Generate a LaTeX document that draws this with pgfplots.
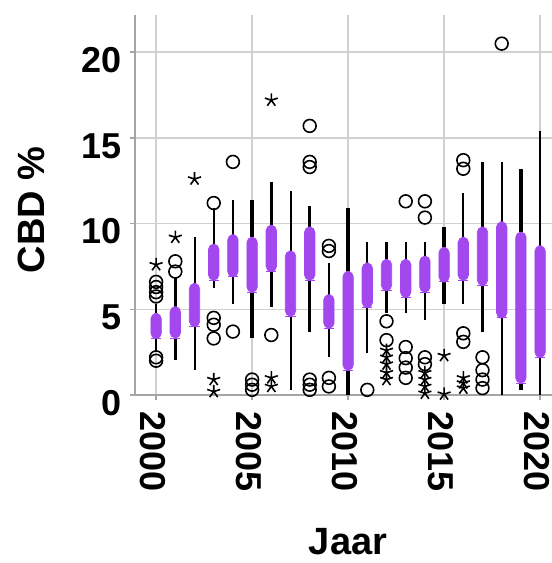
\documentclass[border=0pt]{standalone}
\usepackage{fontspec}
\setmainfont{Liberation Sans}
\usepackage{pgfplots}
\pgfplotsset{compat=1.18}
\usepgfplotslibrary{statistics}
\definecolor{cbdpurple}{RGB}{163,72,238}
\definecolor{gridgray}{RGB}{208,208,208}
\definecolor{axgray}{RGB}{165,165,165}
% position (year-2000), lower whisker, q1, q3, upper whisker, extra options
\newcommand\bx[6]{\addplot[boxplot prepared={draw position=#1, lower whisker=#2, lower quartile=#3, median=#3, upper quartile=#4, upper whisker=#5}, #6] coordinates {};}
\begin{document}
\begin{tikzpicture}
\begin{axis}[
 width=208.5pt, height=190pt, scale only axis,
 xmin=-1.1, xmax=20.62, ymin=0, ymax=22.17,
 axis x line*=bottom, axis y line*=left,
 axis line style={-, axgray, line width=1.3pt},
 grid=major, major grid style={gridgray, line width=0.8pt},
 xtick={0,5,10,15,20}, xticklabels={2000,2005,2010,2015,2020},
 ytick={0,5,10,15,20}, yticklabels={0,5,10,15,20},
 tick align=outside, major tick length=2.5pt, tick style={axgray, line width=0.8pt},
 ticklabel style={font=\fontsize{18}{18}\selectfont\bfseries},
 yticklabel style={anchor=east, inner sep=0pt, xshift=-4pt, yshift=-4pt},
 xticklabel style={yshift=-5.5pt, xshift=-1.5pt, rotate=-90, anchor=west, inner sep=0pt},
 xlabel={Jaar}, ylabel={CBD \%},
 label style={font=\fontsize{19}{19}\selectfont\bfseries},
 xlabel style={at={(axis description cs:0.511,-0.387)}, anchor=center},
 ylabel style={at={(axis description cs:-0.249,0.487)}, anchor=center},
 boxplot/draw direction=y,
 boxplot/box extend=0.54, boxplot/whisker extend=0,
 boxplot/every box/.style={draw=cbdpurple, fill=cbdpurple, rounded corners=2.6pt},
 boxplot/every whisker/.style={black, line width=1pt},
 boxplot/every median/.style={draw=cbdpurple},
 clip=false,
]
\coordinate (sw) at (rel axis cs:0,0);
\coordinate (ne) at (rel axis cs:1,1);
\pgfplotsset{thickw/.style={boxplot/every whisker/.style={black, line width=1.7pt}}}
\bx{0}{2.5}{3.3}{4.75}{5.3}{}
\bx{1}{2.05}{3.33}{5.15}{6.8}{thickw}
\bx{2}{1.45}{4.0}{6.5}{9.2}{}
\bx{3}{6.25}{6.7}{8.8}{10.9}{}
\bx{4}{5.3}{6.9}{9.35}{11.4}{}
\bx{5}{3.3}{6.0}{9.2}{11.4}{thickw}
\bx{6}{5.15}{7.2}{9.9}{12.4}{thickw}
\bx{7}{0.3}{4.6}{8.4}{11.9}{}
\bx{8}{3.7}{6.7}{9.8}{11.0}{thickw}
\bx{9}{2.2}{3.9}{5.85}{7.7}{}
\bx{10}{0}{1.45}{7.2}{10.9}{thickw}
\bx{11}{2.45}{5.1}{7.7}{8.9}{}
\bx{12}{4.8}{6.1}{7.9}{8.95}{thickw}
\bx{13}{4.8}{5.7}{7.9}{8.95}{}
\bx{14}{4.4}{6.0}{8.1}{8.9}{}
\bx{15}{5.3}{6.6}{8.6}{9.8}{thickw}
\bx{16}{5.3}{6.7}{9.2}{11.8}{}
\bx{17}{3.7}{6.4}{9.8}{13.6}{thickw}
\bx{18}{0}{4.5}{10.1}{13.6}{}
\bx{19}{0.3}{0.7}{9.5}{13.2}{thickw}
\bx{20}{0}{2.2}{8.7}{15.4}{}
% outliers (circles)
\addplot[only marks, mark=o, mark size=3.2pt, line width=0.8pt, black] coordinates {
(0,6.6) (0,6.3) (0,6.0) (0,5.75) (0,2.2) (0,2.0)
(1,7.8) (1,7.2)
(3,11.2) (3,4.5) (3,4.1) (3,3.3)
(4,13.6) (4,3.7)
(5,0.9) (5,0.6) (5,0.3)
(6,3.5)
(8,15.7) (8,13.6) (8,13.3) (8,0.9) (8,0.6) (8,0.3)
(9,8.7) (9,8.4) (9,1.0) (9,0.5)
(11,0.3)
(12,4.3) (12,3.2)
(13,11.3) (13,2.8) (13,2.15) (13,1.6) (13,1.0)
(14,11.3) (14,10.35) (14,2.2) (14,1.8)
(16,13.7) (16,13.2) (16,3.6) (16,3.1)
(17,2.2) (17,1.45) (17,0.9) (17,0.4)
(18,20.5)
};
% extreme outliers (stars)
\addplot[only marks, mark=star, mark size=3.4pt, line width=0.8pt, black] coordinates {
(0,7.6) (1,9.2) (2,12.6)
(3,0.9) (3,0.2)
(6,17.2) (6,1.0) (6,0.5)
(12,2.6) (12,2.2) (12,1.8) (12,1.3) (12,0.9)
(14,1.3) (14,0.9) (14,0.5) (14,0.1)
(15,2.3) (15,0.05)
(16,1.0) (16,0.7) (16,0.4)
};
\end{axis}
\pgfresetboundingbox
\path[use as bounding box] (sw) ++(-67.5pt,-84pt) rectangle ([yshift=7.5pt]ne);
\end{tikzpicture}
\end{document}
